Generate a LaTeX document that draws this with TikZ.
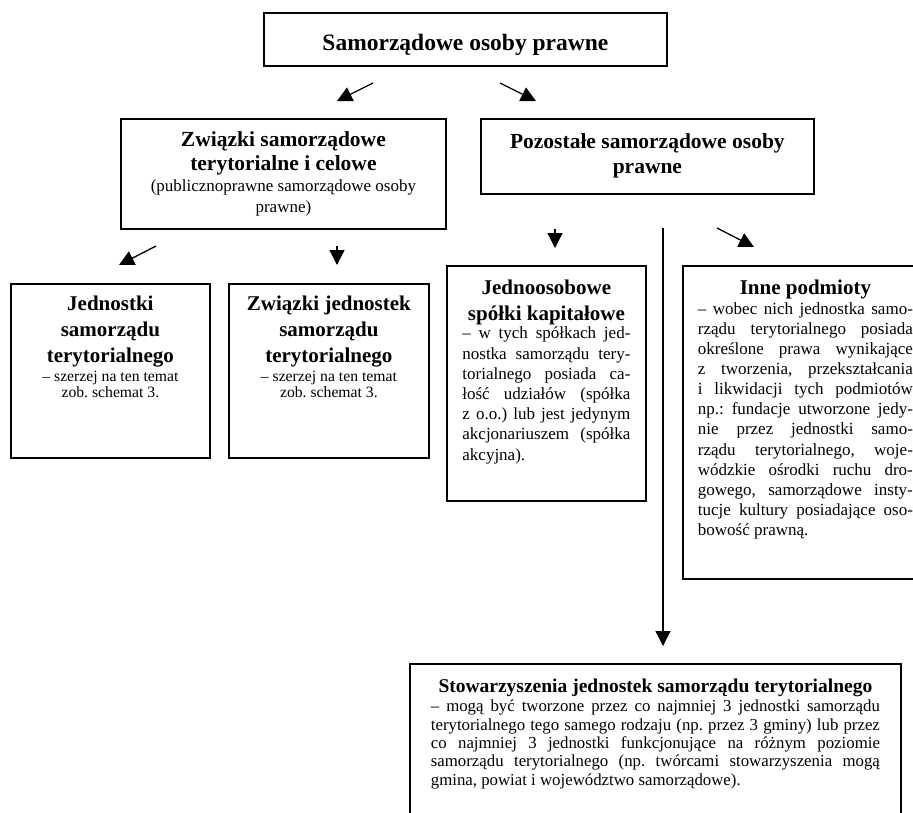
\documentclass[tikz,border=0pt]{standalone}
\usepackage{fontspec}
\setmainfont{Liberation Serif}
\usetikzlibrary{arrows.meta}
\newcommand{\pole}[4]{\parbox[t][#2][t]{#1}{\vspace*{#3}#4}}
\frenchspacing
\tolerance=10000

\begin{document}
\begin{tikzpicture}[x=1pt,y=-1pt,
	ramka/.style={draw,line width=1.8pt,inner xsep=#1,inner ysep=0pt,anchor=north west},
	ramka/.default=10pt,
	strz/.style={-{Triangle[length=15pt,width=15pt]},line width=1.3pt}]
	\useasboundingbox (0,0) rectangle (913,812);

	\node[ramka] (szczyt) at (263,12) {\pole{383pt}{53pt}{21pt}{\centering\fontsize{23.5}{26}\bfseries Samorządowe osoby prawne\par}};

	\node[ramka] (zwiazki) at (120,118) {\pole{305pt}{110pt}{12.7pt}{\centering{\fontsize{21.5}{24}\bfseries Związki samorządowe\\terytorialne i celowe\par}{\fontsize{17}{21}\selectfont (publicznoprawne samorządowe osoby\\prawne)\par}}};
	\node[ramka] (pozostale) at (480,118) {\pole{313pt}{75pt}{14.7pt}{\centering\fontsize{21.5}{25}\bfseries Pozostałe samorządowe osoby\\prawne\par}};

	\node[ramka=8pt] (jst) at (10,283) {\pole{183pt}{174pt}{11.8pt}{\centering{\fontsize{21}{26}\bfseries Jednostki\\samorządu\\terytorialnego\par}\vspace{3.4pt}{\fontsize{15.7}{16}\selectfont – szerzej na ten temat\\zob. schemat 3.\par}}};
	\node[ramka=8pt] (zjst) at (228,283) {\pole{184pt}{174pt}{11.8pt}{\centering{\fontsize{21}{26}\bfseries Związki jednostek\\samorządu\\terytorialnego\par}\vspace{3.4pt}{\fontsize{15.7}{16}\selectfont – szerzej na ten temat\\zob. schemat 3.\par}}};

	\node[ramka=15.5pt] (spolki) at (446,265) {\pole{168pt}{235pt}{13.8pt}{{\centering\fontsize{21}{26}\bfseries Jednoosobowe\\spółki kapitałowe\par}\vspace{-1.5pt}{\fontsize{17}{20.2}\selectfont – w tych spółkach jed-\linebreak nostka samorządu tery-\linebreak torialnego posiada ca-\linebreak łość udziałów (spółka\linebreak z~o.o.) lub jest jedynym\linebreak akcjonariuszem (spółka\linebreak akcyjna).\par}}};

	\node[ramka=15pt] (inne) at (682,265) {\pole{215pt}{313pt}{13.8pt}{{\centering\fontsize{21}{26}\bfseries Inne podmioty\par}{\fontsize{17}{20.1}\selectfont – wobec nich jednostka samo-\linebreak rządu terytorialnego posiada\linebreak określone prawa wynikające\linebreak z~tworzenia, przekształcania\linebreak i~likwidacji tych podmiotów\linebreak np.: fundacje utworzone jedy-\linebreak nie przez jednostki samo-\linebreak rządu terytorialnego, woje-\linebreak wódzkie ośrodki ruchu dro-\linebreak gowego, samorządowe insty-\linebreak tucje kultury posiadające oso-\linebreak bowość prawną.\par}}};

	\node[ramka=21pt] (stow) at (409,663) {\pole{449pt}{170pt}{15.5pt}{{\centering\fontsize{19.5}{22}\bfseries Stowarzyszenia jednostek samorządu terytorialnego\par}\vspace{0.7pt}{\fontsize{16.8}{18.3}\selectfont – mogą być tworzone przez co najmniej 3 jednostki samorządu\linebreak terytorialnego tego samego rodzaju (np. przez 3 gminy) lub przez\linebreak co najmniej 3 jednostki funkcjonujące na różnym poziomie\linebreak samorządu terytorialnego (np. twórcami stowarzyszenia mogą\linebreak gmina, powiat i województwo samorządowe).\par}}};

	\coordinate (p1) at (373,83);
	\coordinate (k1) at (337,101);
	\coordinate (p2) at (500,83);
	\coordinate (k2) at (536,101);
	\coordinate (p3) at (156,246);
	\coordinate (k3) at (119,265);
	\coordinate (p4) at (337,246);
	\coordinate (k4) at (337,265);
	\coordinate (p5) at (555,229);
	\coordinate (k5) at (555,248);
	\coordinate (p6) at (717,228);
	\coordinate (k6) at (754,247);
	\coordinate (p7) at (663,228);
	\coordinate (k7) at (663,646);

	\draw[strz] (p1) -- (k1);
	\draw[strz] (p2) -- (k2);
	\draw[strz] (p3) -- (k3);
	\draw[strz] (p4) -- (k4);
	\draw[strz] (p5) -- (k5);
	\draw[strz] (p6) -- (k6);
	\draw[strz] (p7) -- (k7);
\end{tikzpicture}
\end{document}
